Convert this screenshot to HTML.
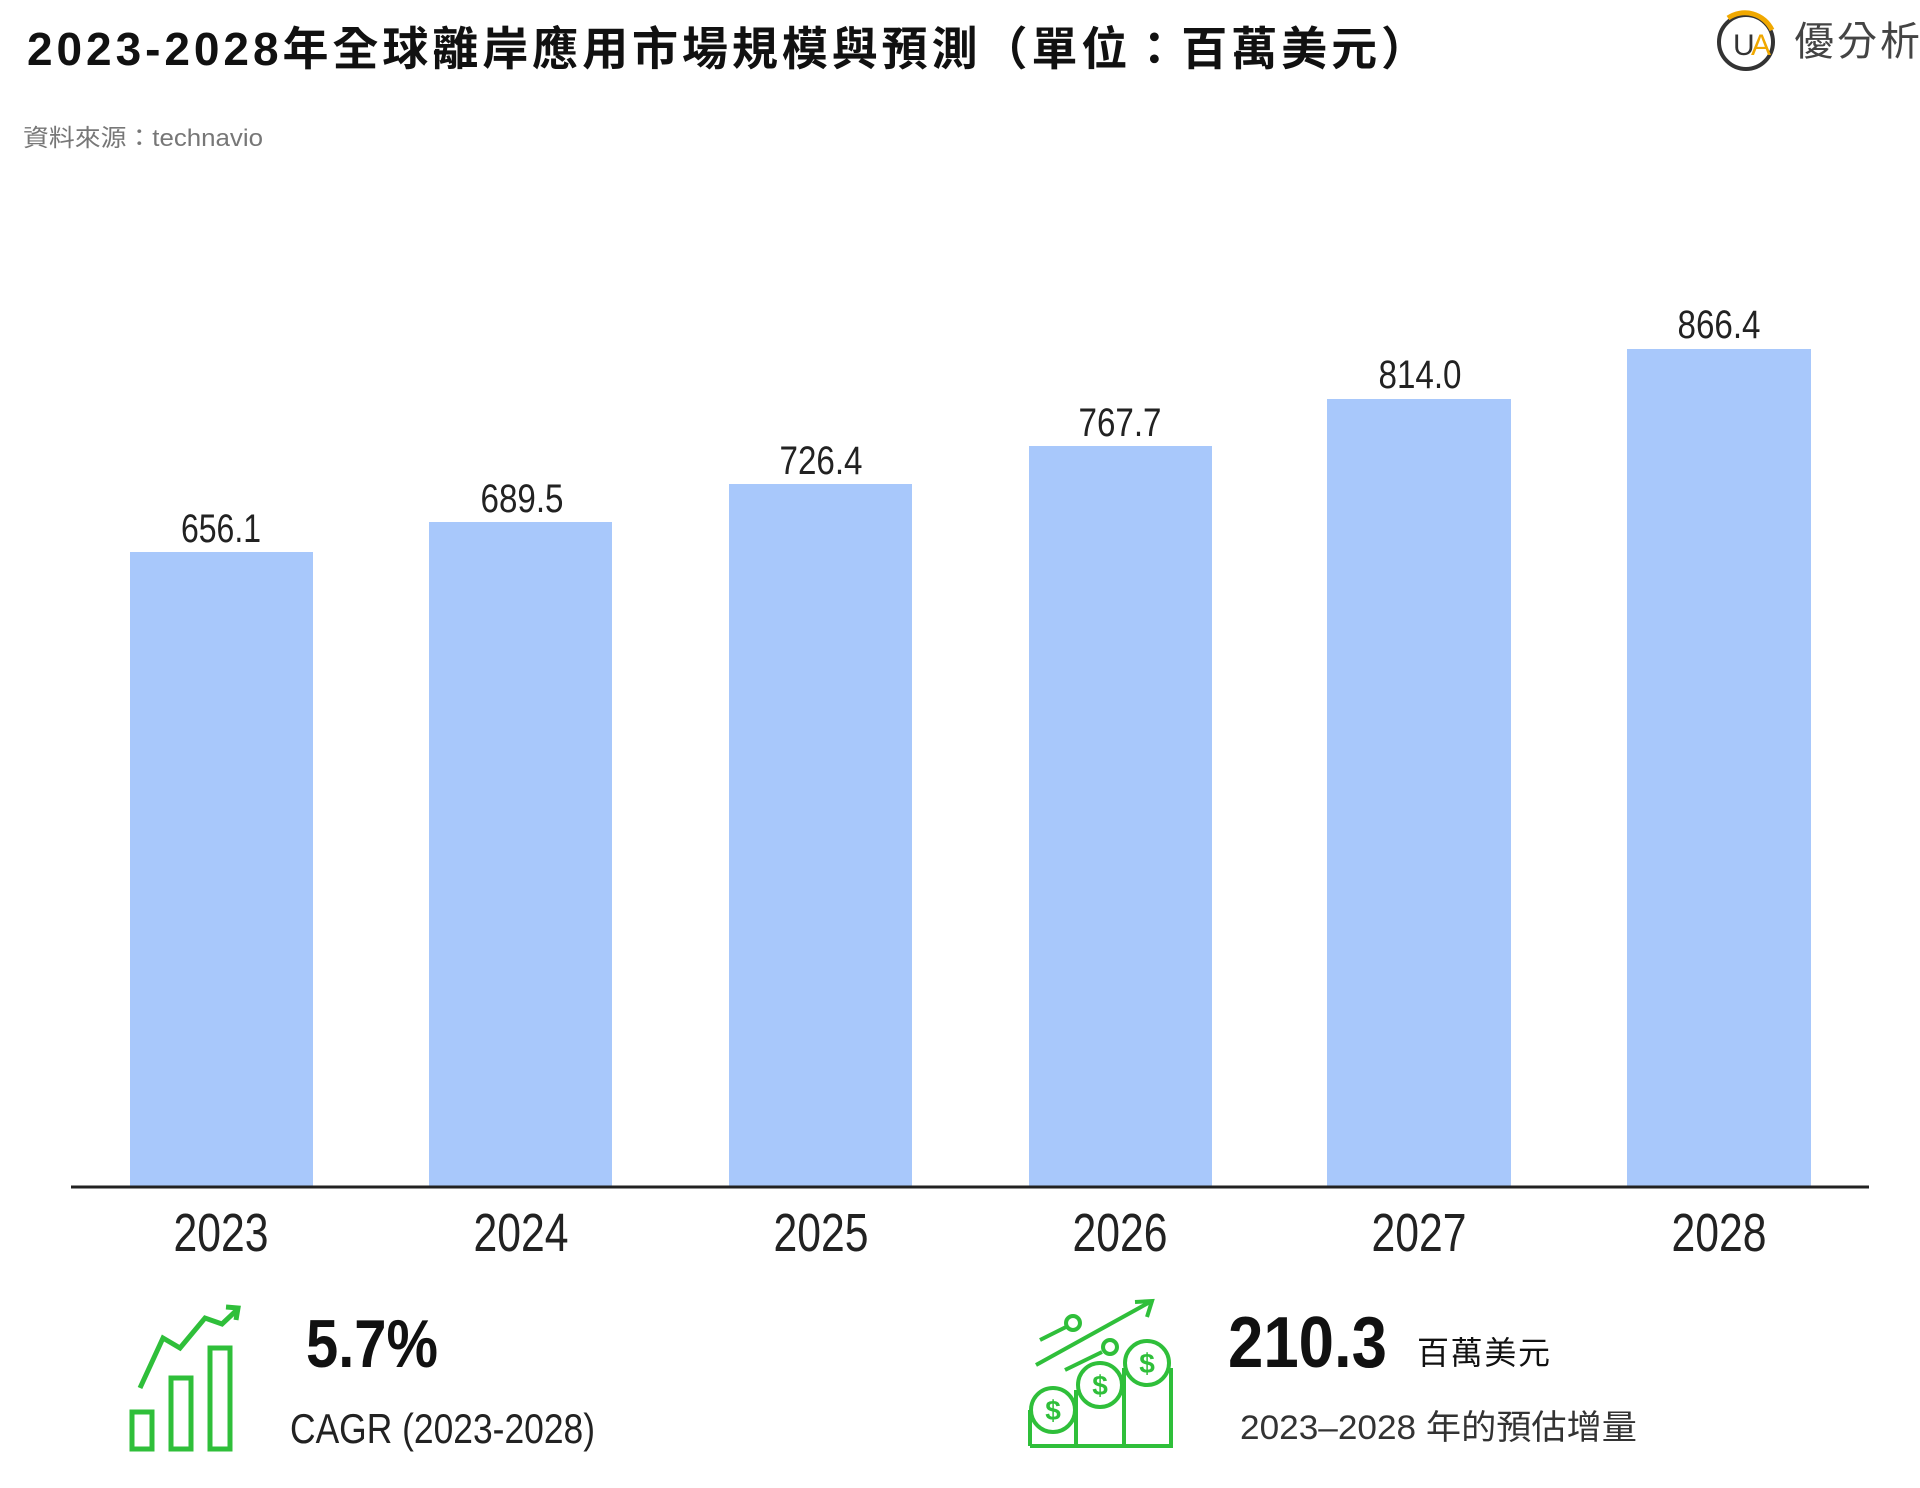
<!DOCTYPE html>
<html><head><meta charset="utf-8"><style>
html,body{margin:0;padding:0;background:#fff;}
svg{display:block}
.cn{font-family:"Liberation Sans","Noto Sans CJK TC",sans-serif}
.nr{font-family:"Liberation Sans",sans-serif}
</style></head><body>
<svg width="1920" height="1488" viewBox="0 0 1920 1488" xmlns="http://www.w3.org/2000/svg">
<rect width="1920" height="1488" fill="#fff"/>
<text x="27" y="65" class="cn" font-size="46" font-weight="bold" fill="#111" textLength="1400" lengthAdjust="spacing">2023-2028年全球離岸應用市場規模與預測（單位：百萬美元）</text>
<text x="23" y="146" class="cn" font-size="24" fill="#777" textLength="240" lengthAdjust="spacingAndGlyphs">資料來源：technavio</text>
<!-- logo -->
<circle cx="1746" cy="42" r="27" fill="none" stroke="#333" stroke-width="4"/>
<path d="M1728 18 A30 30 0 0 1 1772 30" fill="none" stroke="#f0a800" stroke-width="5"/>
<text x="1733" y="55" class="nr" font-size="30" fill="#333">U</text>
<text x="1751" y="55" class="nr" font-size="30" fill="#f0a800">A</text>
<text x="1794" y="55" class="cn" font-size="40" fill="#444" textLength="126" lengthAdjust="spacing">優分析</text>
<g fill="#a8c8fb">
<rect x="130" y="552" width="183" height="635"/>
<rect x="429" y="522" width="183" height="665"/>
<rect x="729" y="484" width="183" height="703"/>
<rect x="1029" y="446" width="183" height="741"/>
<rect x="1327" y="399" width="184" height="788"/>
<rect x="1627" y="349" width="184" height="838"/>
</g>
<line x1="71" y1="1187" x2="1869" y2="1187" stroke="#222" stroke-width="3"/>
<g class="nr" font-size="40" fill="#222" text-anchor="middle" lengthAdjust="spacingAndGlyphs">
<text x="221" y="542" textLength="80" lengthAdjust="spacingAndGlyphs">656.1</text>
<text x="522" y="512" textLength="83" lengthAdjust="spacingAndGlyphs">689.5</text>
<text x="821" y="474" textLength="83" lengthAdjust="spacingAndGlyphs">726.4</text>
<text x="1120" y="436" textLength="83" lengthAdjust="spacingAndGlyphs">767.7</text>
<text x="1420" y="388" textLength="83" lengthAdjust="spacingAndGlyphs">814.0</text>
<text x="1719" y="338" textLength="83" lengthAdjust="spacingAndGlyphs">866.4</text>
</g>
<g class="nr" font-size="54" fill="#222" text-anchor="middle">
<text x="221" y="1251" textLength="95" lengthAdjust="spacingAndGlyphs">2023</text>
<text x="521" y="1251" textLength="95" lengthAdjust="spacingAndGlyphs">2024</text>
<text x="821" y="1251" textLength="95" lengthAdjust="spacingAndGlyphs">2025</text>
<text x="1120" y="1251" textLength="95" lengthAdjust="spacingAndGlyphs">2026</text>
<text x="1419" y="1251" textLength="95" lengthAdjust="spacingAndGlyphs">2027</text>
<text x="1719" y="1251" textLength="95" lengthAdjust="spacingAndGlyphs">2028</text>
</g>
<!-- icon 1 -->
<g fill="none" stroke="#2fbf3a" stroke-width="5">
<rect x="132" y="1412" width="20" height="37"/>
<rect x="171" y="1378" width="20" height="71"/>
<rect x="210" y="1348" width="20" height="101"/>
<polyline points="140,1388 163,1338 180,1348 205,1318 222,1324 238,1309"/>
<polyline points="226,1307 238,1308 236,1320"/>
</g>
<text x="306" y="1367" class="nr" font-size="68" font-weight="bold" fill="#111" textLength="132" lengthAdjust="spacingAndGlyphs">5.7%</text>
<text x="290" y="1443" class="nr" font-size="42" fill="#222" textLength="305" lengthAdjust="spacingAndGlyphs">CAGR (2023-2028)</text>
<!-- icon 2 -->
<g fill="none" stroke="#2fbf3a" stroke-width="4">
<polyline points="1030,1446 1171,1446 1171,1368"/>
<line x1="1030" y1="1446" x2="1030" y2="1410"/>
<line x1="1076" y1="1446" x2="1076" y2="1390"/><line x1="1124" y1="1446" x2="1124" y2="1368"/>
<circle cx="1053" cy="1410" r="22"/><circle cx="1100" cy="1385" r="22"/><circle cx="1147" cy="1363" r="22"/>
<line x1="1036" y1="1365" x2="1150" y2="1302"/><polyline points="1135,1302 1152,1301 1147,1317"/>
<line x1="1040" y1="1340" x2="1066" y2="1327"/><circle cx="1073" cy="1323" r="7"/>
<line x1="1065" y1="1370" x2="1102" y2="1352"/><circle cx="1110" cy="1347" r="7"/>
</g>
<g class="nr" font-size="28" font-weight="bold" fill="#2fbf3a" text-anchor="middle">
<text x="1053" y="1420">$</text><text x="1100" y="1395">$</text><text x="1147" y="1373">$</text>
</g>
<text x="1228" y="1367" class="nr" font-size="72" font-weight="bold" fill="#111" textLength="159" lengthAdjust="spacingAndGlyphs">210.3</text>
<text x="1417" y="1364" class="cn" font-size="32" fill="#111" textLength="133" lengthAdjust="spacing">百萬美元</text>
<text x="1240" y="1439" class="cn" font-size="34" fill="#333" textLength="397" lengthAdjust="spacingAndGlyphs">2023–2028 年的預估增量</text>
</svg>
</body></html>
